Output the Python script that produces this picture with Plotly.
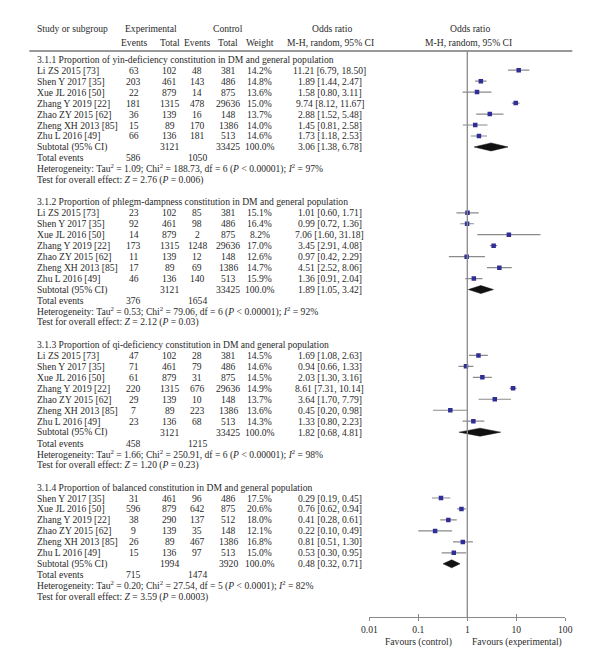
import plotly.graph_objects as go

# ---------------- data ----------------
studies_a = ["Li ZS 2015 [73]", "Shen Y 2017 [35]", "Xue JL 2016 [50]", "Zhang Y 2019 [22]",
             "Zhao ZY 2015 [62]", "Zheng XH 2013 [85]", "Zhu L 2016 [49]"]
studies_b = ["Shen Y 2017 [35]", "Xue JL 2016 [50]", "Zhang Y 2019 [22]",
             "Zhao ZY 2015 [62]", "Zheng XH 2013 [85]", "Zhu L 2016 [49]"]

titles = ["3.1.1 Proportion of yin-deficiency constitution in DM and general population",
          "3.1.2 Proportion of phlegm-dampness constitution in DM and general population",
          "3.1.3 Proportion of qi-deficiency constitution in DM and general population",
          "3.1.4 Proportion of balanced constitution in DM and general population"]

# section 3.1.1
s1_exp_events = [63, 203, 22, 181, 36, 15, 66]
s1_exp_total = [102, 461, 879, 1315, 139, 89, 136]
s1_ctl_events = [48, 143, 14, 478, 16, 170, 181]
s1_ctl_total = [381, 486, 875, 29636, 148, 1386, 513]
s1_weight = ["14.2%", "14.8%", "13.6%", "15.0%", "13.7%", "14.0%", "14.6%"]
s1_or = [11.21, 1.89, 1.58, 9.74, 2.88, 1.45, 1.73]
s1_lo = [6.79, 1.44, 0.80, 8.12, 1.52, 0.81, 1.18]
s1_hi = [18.50, 2.47, 3.11, 11.67, 5.48, 2.58, 2.53]

# section 3.1.2
s2_exp_events = [23, 92, 14, 173, 11, 17, 46]
s2_exp_total = [102, 461, 879, 1315, 139, 89, 136]
s2_ctl_events = [85, 98, 2, 1248, 12, 69, 140]
s2_ctl_total = [381, 486, 875, 29636, 148, 1386, 513]
s2_weight = ["15.1%", "16.4%", "8.2%", "17.0%", "12.6%", "14.7%", "15.9%"]
s2_or = [1.01, 0.99, 7.06, 3.45, 0.97, 4.51, 1.36]
s2_lo = [0.60, 0.72, 1.60, 2.91, 0.42, 2.52, 0.91]
s2_hi = [1.71, 1.36, 31.18, 4.08, 2.29, 8.06, 2.04]

# section 3.1.3
s3_exp_events = [47, 71, 61, 220, 29, 7, 23]
s3_exp_total = [102, 461, 879, 1315, 139, 89, 136]
s3_ctl_events = [28, 79, 31, 676, 10, 223, 68]
s3_ctl_total = [381, 486, 875, 29636, 148, 1386, 513]
s3_weight = ["14.5%", "14.6%", "14.5%", "14.9%", "13.7%", "13.6%", "14.3%"]
s3_or = [1.69, 0.94, 2.03, 8.61, 3.64, 0.45, 1.33]
s3_lo = [1.08, 0.66, 1.30, 7.31, 1.70, 0.20, 0.80]
s3_hi = [2.63, 1.33, 3.16, 10.14, 7.79, 0.98, 2.23]

# section 3.1.4
s4_exp_events = [31, 596, 38, 9, 26, 15]
s4_exp_total = [461, 879, 290, 139, 89, 136]
s4_ctl_events = [96, 642, 137, 35, 467, 97]
s4_ctl_total = [486, 875, 512, 148, 1386, 513]
s4_weight = ["17.5%", "20.6%", "18.0%", "12.1%", "16.8%", "15.0%"]
s4_or = [0.29, 0.76, 0.41, 0.22, 0.81, 0.53]
s4_lo = [0.19, 0.62, 0.28, 0.10, 0.51, 0.30]
s4_hi = [0.45, 0.94, 0.61, 0.49, 1.30, 0.95]

sub_exp_total = [3121, 3121, 3121, 1994]
sub_ctl_total = [33425, 33425, 33425, 3920]
sub_or = [3.06, 1.89, 1.82, 0.48]
sub_lo = [1.38, 1.05, 0.68, 0.32]
sub_hi = [6.78, 3.42, 4.81, 0.71]
tot_exp_events = [586, 376, 458, 715]
tot_ctl_events = [1050, 1654, 1215, 1474]
het_tau2 = ["1.09", "0.53", "1.66", "0.20"]
het_chi2 = ["188.73", "79.06", "250.91", "27.54"]
het_df = [6, 6, 6, 5]
het_p = ["0.00001", "0.00001", "0.00001", "0.0001"]
het_i2 = [97, 92, 98, 82]
z_val = ["2.76", "2.12", "1.20", "3.59"]
z_p = ["= 0.006", "= 0.03", "= 0.23", "= 0.0003"]

tick_vals = [0.01, 0.1, 1, 10, 100]
tick_text = ["0.01", "0.1", "1", "10", "100"]

sections = [
    (studies_a, s1_exp_events, s1_exp_total, s1_ctl_events, s1_ctl_total, s1_weight, s1_or, s1_lo, s1_hi),
    (studies_a, s2_exp_events, s2_exp_total, s2_ctl_events, s2_ctl_total, s2_weight, s2_or, s2_lo, s2_hi),
    (studies_a, s3_exp_events, s3_exp_total, s3_ctl_events, s3_ctl_total, s3_weight, s3_or, s3_lo, s3_hi),
    (studies_b, s4_exp_events, s4_exp_total, s4_ctl_events, s4_ctl_total, s4_weight, s4_or, s4_lo, s4_hi),
]

# ---------------- layout constants ----------------
OFF = 8                      # browser body margin
W, H = 584, 656              # figure size (fits the 600x672 window with margins)
FONT = "Liberation Serif"
FS = 9.6
TXT = "#2a2a2a"
GRAY = "#8a8a8a"
BLUE = "#2e2e96"
X_NAME = 27
X_EE, X_ET, X_CE, X_CT, X_W, X_OR = 129, 166, 194, 226, 258, 330
Y0, STEP = 59.2, 10.97
AXIS_Y = 617.3
HEAD_Y = 51

fig = go.Figure()
ann = []


def px(x):
    return (x - OFF) / W


def text(x, y, s, anchor="left", size=FS):
    ann.append(dict(x=px(x), y=y, xref="paper", yref="y", text=s, showarrow=False,
                    xanchor=anchor, yanchor="middle", font=dict(family=FONT, size=size, color=TXT)))


def fmt(v):
    return f"{v:.2f}"


# headers
text(X_NAME, 28.3, "Study or subgroup")
text(146.6, 28.3, "Experimental", "center")
text(225.7, 28.3, "Control", "center")
text(X_EE, 42.3, "Events", "center")
text(X_ET, 42.3, "Total", "center")
text(X_CE, 42.3, "Events", "center")
text(X_CT, 42.3, "Total", "center")
text(X_W, 42.3, "Weight", "center")
text(332, 28.3, "Odds ratio", "center")
text(331, 42.3, "M-H, random, 95% CI", "center")
text(474, 28.3, "Odds ratio", "center")
text(472, 42.3, "M-H, random, 95% CI", "center")

row = 0
for si, (names, ee, et, ce, ct, wt, orv, lo, hi) in enumerate(sections):
    y = Y0 + row * STEP
    text(X_NAME, y, titles[si])
    row += 1
    ys = []
    for i, nm in enumerate(names):
        y = Y0 + row * STEP
        ys.append(y)
        text(X_NAME, y, nm)
        text(X_EE, y, str(ee[i]), "center")
        text(X_ET, y, str(et[i]), "center")
        text(X_CE, y, str(ce[i]), "center")
        text(X_CT, y, str(ct[i]), "center")
        text(X_W, y, wt[i], "center")
        text(X_OR, y, f"{fmt(orv[i])} [{fmt(lo[i])}, {fmt(hi[i])}]", "center")
        row += 1
    # CI lines
    lx, ly = [], []
    for i in range(len(names)):
        lx += [lo[i], hi[i], None]
        ly += [ys[i], ys[i], None]
    fig.add_trace(go.Scatter(x=lx, y=ly, mode="lines", line=dict(color=GRAY, width=1.2),
                             hoverinfo="skip", showlegend=False))
    fig.add_trace(go.Scatter(x=orv, y=ys, mode="markers",
                             marker=dict(symbol="square", size=4.5, color=BLUE),
                             hoverinfo="skip", showlegend=False))
    # subtotal
    y = Y0 + row * STEP
    text(X_NAME, y, "Subtotal (95% CI)")
    text(X_ET, y, str(sub_exp_total[si]), "center")
    text(X_CT, y, str(sub_ctl_total[si]), "center")
    text(X_W, y, "100.0%", "center")
    text(X_OR, y, f"{fmt(sub_or[si])} [{fmt(sub_lo[si])}, {fmt(sub_hi[si])}]", "center")
    fig.add_trace(go.Scatter(x=[sub_lo[si], sub_or[si], sub_hi[si], sub_or[si], sub_lo[si]],
                             y=[y, y - 4, y, y + 4, y], mode="lines", fill="toself",
                             fillcolor="#111111", line=dict(color="#111111", width=0.5),
                             hoverinfo="skip", showlegend=False))
    row += 1
    y = Y0 + row * STEP
    text(X_NAME, y, "Total events")
    text(X_EE, y, str(tot_exp_events[si]), "center")
    text(X_CE, y, str(tot_ctl_events[si]), "center")
    row += 1
    y = Y0 + row * STEP
    text(X_NAME, y, f"Heterogeneity: Tau<sup>2</sup> = {het_tau2[si]}; Chi<sup>2</sup> = {het_chi2[si]}, "
                    f"df = {het_df[si]} (<i>P</i> &lt; {het_p[si]}); <i>I</i><sup>2</sup> = {het_i2[si]}%")
    row += 1
    y = Y0 + row * STEP
    text(X_NAME, y, f"Test for overall effect: <i>Z</i> = {z_val[si]} (<i>P</i> {z_p[si]})")
    row += 2

# favours labels
text(420.8, 642, "Favours (control)", "center")
text(521.7, 642, "Favours (experimental)", "center")

# header rule and null line
fig.add_shape(type="line", xref="paper", yref="y", x0=px(21.7), x1=px(579), y0=HEAD_Y, y1=HEAD_Y,
              line=dict(color="#999999", width=1.8))
fig.add_shape(type="line", xref="x", yref="y", x0=1, x1=1, y0=HEAD_Y, y1=AXIS_Y,
              line=dict(color=GRAY, width=1.3))

dom = [px(370.7), px(571.7)]
pos = 1 - (AXIS_Y - OFF) / H
fig.update_layout(
    width=W, height=H, autosize=False,
    margin=dict(l=0, r=0, t=0, b=0),
    paper_bgcolor="white", plot_bgcolor="white",
    annotations=ann,
    xaxis=dict(type="log", range=[-2, 2], domain=dom, anchor="free", position=pos,
               showline=True, linecolor=GRAY, linewidth=1.2, showgrid=False, zeroline=False,
               ticks="outside", ticklen=3, tickwidth=1.2, tickcolor=GRAY,
               tickvals=tick_vals, ticktext=tick_text,
               tickfont=dict(family=FONT, size=FS, color=TXT)),
    xaxis2=dict(type="log", range=[-2, 2], domain=dom, anchor="free", position=pos,
                overlaying="x", showline=False, showgrid=False, zeroline=False,
                ticks="inside", ticklen=3, tickwidth=1.2, tickcolor=GRAY,
                tickvals=tick_vals, showticklabels=False),
    yaxis=dict(range=[OFF + H, OFF], domain=[0, 1], visible=False, showgrid=False),
)
fig.add_trace(go.Scatter(x=[1], y=[AXIS_Y], xaxis="x2", mode="markers",
                         marker=dict(opacity=0), hoverinfo="skip", showlegend=False))

fig.write_html("out.html")
